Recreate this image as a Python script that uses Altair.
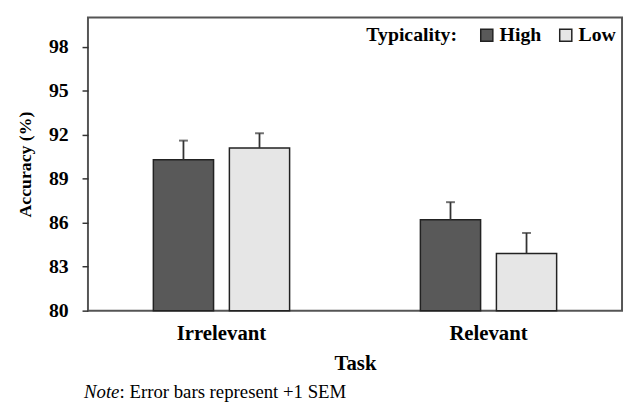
import altair as alt
import pandas as pd

tasks = ["Irrelevant", "Irrelevant", "Relevant", "Relevant"]
typicality = ["High", "Low", "High", "Low"]
accuracy = [90.3, 91.1, 86.2, 83.9]
sem = [1.3, 1.0, 1.2, 1.4]
y_ticks = [80, 83, 86, 89, 92, 95, 98]

df = pd.DataFrame({"task": tasks, "typicality": typicality,
                   "accuracy": accuracy, "sem": sem})
df["upper"] = df["accuracy"] + df["sem"]

FONT = "Liberation Serif"

x = alt.X("task:N", title="Task",
          scale=alt.Scale(paddingInner=0, paddingOuter=0),
          axis=alt.Axis(labelAngle=0, ticks=False, domain=False,
                        labelFont=FONT, labelFontSize=21, labelFontWeight="bold",
                        labelColor="black", labelPadding=12,
                        titleFont=FONT, titleFontSize=21, titleFontWeight="bold",
                        titleColor="black", titlePadding=10))
xo = alt.XOffset("typicality:N", sort=["High", "Low"],
                 scale=alt.Scale(paddingInner=0.208, paddingOuter=0.86))
yscale = alt.Scale(domain=[80, 100], zero=False, nice=False)
y = alt.Y("accuracy:Q", scale=yscale, title="Accuracy (%)",
          axis=alt.Axis(values=y_ticks, grid=False, domain=False,
                        tickSize=6, tickColor="#333", tickWidth=1.5,
                        labelFont=FONT, labelFontSize=20, labelFontWeight="bold",
                        labelColor="black", labelPadding=14,
                        titleFont=FONT, titleFontSize=18, titleFontWeight="bold",
                        titleColor="black", titlePadding=14))

color = alt.Color("typicality:N",
                  scale=alt.Scale(domain=["High", "Low"], range=["#595959", "#e6e6e6"]),
                  legend=alt.Legend(orient="none", legendX=282, legendY=8,
                                    direction="horizontal",
                                    title="Typicality:", titleOrient="left",
                                    symbolType="square", symbolSize=150,
                                    symbolStrokeColor="#222", symbolStrokeWidth=1.5,
                                    labelFont=FONT, labelFontSize=20, labelFontWeight="bold",
                                    labelColor="black", labelOffset=3,
                                    titleFont=FONT, titleFontSize=20, titleFontWeight="bold",
                                    titleColor="black", titlePadding=20,
                                    columnPadding=14, padding=0))

bars = alt.Chart(df).mark_bar(stroke="#222", strokeWidth=1.5).encode(
    x=x, xOffset=xo, y=y, y2=alt.datum(80), color=color)

err = alt.Chart(df).mark_rule(color="#333", strokeWidth=1.8).encode(
    x=x, xOffset=xo, y=alt.Y("accuracy:Q", scale=yscale), y2="upper:Q")

caps = alt.Chart(df).mark_tick(color="#333", thickness=2, size=9).encode(
    x=x, xOffset=xo, y=alt.Y("upper:Q", scale=yscale))

note_df = pd.DataFrame({"a": ["Note"], "b": [": Error bars represent +1 SEM"]})
note1 = alt.Chart(note_df).mark_text(font=FONT, fontSize=19, fontStyle="italic",
                                     align="left", baseline="alphabetic", color="black").encode(
    text="a:N", x=alt.value(-4), y=alt.value(385))
note2 = alt.Chart(note_df).mark_text(font=FONT, fontSize=19,
                                     align="left", baseline="alphabetic", color="black").encode(
    text="b:N", x=alt.value(32), y=alt.value(385))

chart = alt.layer(bars, err, caps, note1, note2).properties(
    width=541, height=297,
    padding={"left": 9, "top": 7, "right": 2, "bottom": 2},
    background="white",
).configure_view(stroke="#555", strokeWidth=2)

chart.save("out.html", embed_options={"renderer": "svg", "actions": False})
